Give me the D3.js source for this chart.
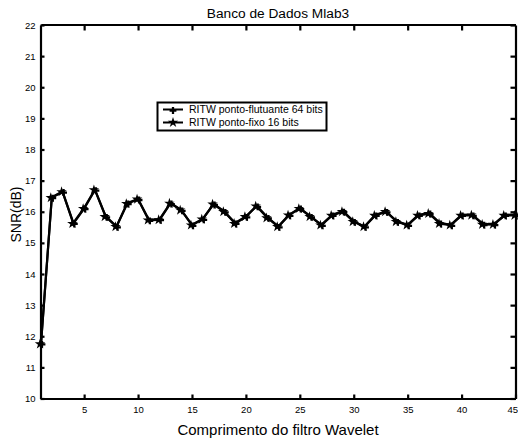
<!DOCTYPE html>
<html><head><meta charset="utf-8">
<script src="https://cdn.jsdelivr.net/npm/d3@7"></script>
<style>body{margin:0;background:#fff}text{font-family:"Liberation Sans",Arial,sans-serif;fill:#000}</style>
</head><body><svg id="c" width="518" height="441"></svg>
<script>
const xs = d3.range(1, 46);
const floatVals = [11.77,16.47,16.65,15.64,16.12,16.71,15.85,15.53,16.28,16.41,15.74,15.76,16.28,16.06,15.58,15.77,16.25,16.01,15.64,15.85,16.19,15.82,15.53,15.90,16.12,15.85,15.58,15.90,16.02,15.69,15.53,15.90,16.01,15.69,15.58,15.90,15.96,15.64,15.58,15.90,15.90,15.60,15.60,15.90,15.90];
const fixedVals = [11.75,16.45,16.64,15.62,16.10,16.70,15.84,15.52,16.26,16.40,15.73,15.74,16.27,16.05,15.57,15.76,16.24,16.00,15.62,15.84,16.18,15.80,15.52,15.89,16.10,15.84,15.57,15.88,16.00,15.68,15.52,15.88,16.00,15.68,15.57,15.88,15.94,15.62,15.57,15.88,15.89,15.59,15.59,15.88,15.88];
const seriesNames = ["RITW ponto-flutuante 64 bits","RITW ponto-fixo 16 bits"];
const xTicks = [5,10,15,20,25,30,35,40,45];
const yTicks = d3.range(10, 23);
const title = "Banco de Dados Mlab3";
const xLabel = "Comprimento do filtro Wavelet";
const yLabel = "SNR(dB)";

const L = 40.5, R = 515.5, T = 24.5, B = 398.5;
const svg = d3.select("#c");
const x = d3.scaleLinear().domain([1,45]).range([L+0.5,R]);
const y = d3.scaleLinear().domain([10,22]).range([B,T+0.5]);

const gB = svg.append("g").attr("transform",`translate(0,${B})`)
  .call(d3.axisBottom(x).tickValues(xTicks).tickSizeInner(-4).tickSizeOuter(0).tickPadding(8));
const gT = svg.append("g").attr("transform",`translate(0,${T})`)
  .call(d3.axisTop(x).tickValues(xTicks.slice(0,-1)).tickSizeInner(-6).tickSizeOuter(0).tickFormat(""));
const gL = svg.append("g").attr("transform",`translate(${L},0)`)
  .call(d3.axisLeft(y).tickValues(yTicks).tickSizeInner(-4).tickSizeOuter(0).tickPadding(5));
const gR = svg.append("g").attr("transform",`translate(${R},0)`)
  .call(d3.axisRight(y).tickValues(yTicks).tickSizeInner(-5).tickSizeOuter(0).tickFormat(""));
[gB,gT,gL,gR].forEach(g=>{
  g.select(".domain").attr("stroke","#000").attr("stroke-width",2.2);
  g.selectAll(".tick line").attr("stroke","#000").attr("stroke-width",2.2);
  g.selectAll("text").attr("font-size",9.5).attr("font-family","Liberation Sans, Arial, sans-serif").attr("fill","#000");
});
// keep the last x label ("45") inside the canvas
gB.selectAll(".tick text").filter(d=>d===45).attr("text-anchor","end").attr("dx",2);

const line = d3.line().x((d,i)=>x(xs[i])).y(d=>y(d));
[floatVals, fixedVals].forEach(vals=>{
  svg.append("path").datum(vals).attr("d",line).attr("fill","none")
    .attr("stroke","#000").attr("stroke-width",2.2).attr("stroke-linejoin","round");
});
const plusSym = d3.symbol().type(d3.symbolCross).size(26);
const starSym = d3.symbol().type(d3.symbolStar).size(34);
svg.append("g").selectAll("path").data(floatVals).join("path")
  .attr("transform",(d,i)=>`translate(${x(xs[i])+1},${y(d)+1})`)
  .attr("d",plusSym).attr("fill","#000");
svg.append("g").selectAll("path").data(fixedVals).join("path")
  .attr("transform",(d,i)=>`translate(${x(xs[i])-1},${y(d)})`)
  .attr("d",starSym).attr("fill","#000");

svg.append("text").attr("x",(L+R)/2).attr("y",18).attr("text-anchor","middle")
  .attr("font-size",13.7).text(title);
svg.append("text").attr("x",(L+R)/2).attr("y",435).attr("text-anchor","middle")
  .attr("font-size",15).text(xLabel);
svg.append("text").attr("transform",`translate(21,${(T+B)/2+3}) rotate(-90)`).attr("text-anchor","middle")
  .attr("font-size",14).text(yLabel);

const lg = svg.append("g");
lg.append("rect").attr("x",157.5).attr("y",102.5).attr("width",169).attr("height",28)
  .attr("fill","#fff").attr("stroke","#000").attr("stroke-width",2);
const syms = [plusSym, starSym];
seriesNames.forEach((n,i)=>{
  const yy = 109.5 + i*13;
  lg.append("line").attr("x1",163).attr("x2",183).attr("y1",yy).attr("y2",yy)
    .attr("stroke","#000").attr("stroke-width",2);
  lg.append("path").attr("d",syms[i]).attr("transform",`translate(173,${yy+(i?0:1)})`).attr("fill","#000");
  lg.append("text").attr("x",189).attr("y",yy+3.5).attr("font-size",10.5).text(n);
});
</script></body></html>
